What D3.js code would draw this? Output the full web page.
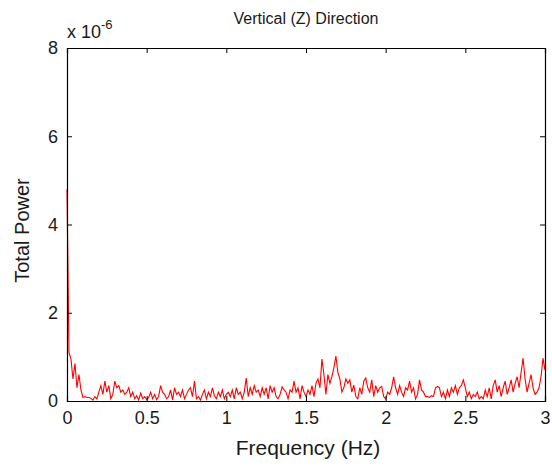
<!DOCTYPE html>
<html><head><meta charset="utf-8">
<script src="https://cdn.jsdelivr.net/npm/d3@7"></script>
<style>body{margin:0;background:#fff}text{font-family:"Liberation Sans",Arial,sans-serif;fill:#1a1a1a}</style>
</head><body><svg id="c" width="552" height="470"></svg>
<script>
const title = "Vertical (Z) Direction";
const xLabel = "Frequency (Hz)";
const yLabel = "Total Power";
const xTicks = [0, 0.5, 1, 1.5, 2, 2.5, 3];
const yTicks = [0, 2, 4, 6, 8];
const yExponent = "-6";
const freqStep = 0.0125;
// Total power values in units of 1e-6
const power = [
4.8,1.1,0.95,0.5,0.85,0.3,0.6,0.25,0.08,0.1,0.08,0.08,0.06,0.02,0.1,0.05,0.2,0.35,0.15,0.45,
0.2,0.35,0.05,0.15,0.45,0.3,0.35,0.2,0.25,0.15,0.2,0.3,0.1,0.2,0.05,0.12,0.02,0.18,0.05,0.1,
0.03,0.08,0.2,0.05,0.15,0.03,0.1,0.35,0.2,0.15,0.05,0.1,0.25,0.02,0.3,0.15,0.2,0.1,0.25,0.05,
0.15,0.25,0.3,0.1,0.45,0.05,0.1,0.02,0.15,0.25,0.05,0.2,0.1,0.3,0.12,0.05,0.2,0.1,0.25,0.05,
0.15,0.2,0.1,0.25,0.05,0.3,0.15,0.2,0.05,0.2,0.52,0.1,0.3,0.15,0.35,0.2,0.25,0.1,0.3,0.15,
0.3,0.05,0.35,0.2,0.3,0.1,0.05,0.15,0.32,0.25,0.2,0.05,0.25,0.2,0.45,0.2,0.3,0.05,0.35,0.2,
0.1,0.25,0.15,0.35,0.1,0.4,0.5,0.3,0.95,0.6,0.15,0.6,0.4,0.55,0.75,1.02,0.65,0.5,0.2,0.3,
0.5,0.4,0.48,0.2,0.36,0.1,0.05,0.3,0.15,0.45,0.52,0.3,0.2,0.48,0.1,0.35,0.2,0.3,0.33,0.1,
0.05,0.2,0.15,0.3,0.55,0.3,0.15,0.35,0.2,0.1,0.3,0.25,0.45,0.2,0.3,0.05,0.15,0.48,0.25,0.2,
0.1,0.1,0.08,0.12,0.1,0.3,0.33,0.3,0.1,0.2,0.05,0.25,0.1,0.3,0.2,0.35,0.15,0.3,0.35,0.48,
0.3,0.1,0.2,0.05,0.15,0.1,0.2,0.05,0.1,0.05,0.25,0.1,0.3,0.05,0.35,0.48,0.2,0.35,0.1,0.3,
0.45,0.15,0.3,0.48,0.2,0.4,0.55,0.3,0.65,0.97,0.5,0.2,0.4,0.6,0.3,0.15,0.2,0.3,0.55,0.97,
0.7
];
const freq = power.map((_, i) => i * freqStep);

const svg = d3.select("#c");
const m = {l:67, r:545, t:48, b:401};
const x = d3.scaleLinear().domain([0,3]).range([m.l, m.r]);
const y = d3.scaleLinear().domain([0,8]).range([m.b, m.t]);

// line
svg.append("path")
  .datum(power.map((v,i)=>[freq[i], v]))
  .attr("fill","none").attr("stroke","#ff0000").attr("stroke-width",1.1)
  .attr("d", d3.line().x(d=>x(d[0])).y(d=>y(d[1])));

// axes with inward ticks
const tl = 5;
const gB = svg.append("g").attr("transform",`translate(0,${m.b})`)
  .call(d3.axisBottom(x).tickValues(xTicks).tickSize(-tl).tickPadding(10).tickFormat(d3.format("")));
const gT = svg.append("g").attr("transform",`translate(0,${m.t})`)
  .call(d3.axisTop(x).tickValues(xTicks).tickSize(-tl).tickFormat(""));
const gL = svg.append("g").attr("transform",`translate(${m.l},0)`)
  .call(d3.axisLeft(y).tickValues(yTicks).tickSize(-tl).tickPadding(9).tickFormat(d3.format("")));
const gR = svg.append("g").attr("transform",`translate(${m.r},0)`)
  .call(d3.axisRight(y).tickValues(yTicks).tickSize(-tl).tickFormat(""));
[gB,gT,gL,gR].forEach(g=>{
  g.select(".domain").attr("stroke","#000").attr("stroke-width",1.2);
  g.selectAll(".tick line").attr("stroke","#000");
  g.selectAll("text").attr("font-size",18).attr("font-family",'"Liberation Sans",Arial,sans-serif').attr("fill","#1a1a1a");
});

// title
svg.append("text").attr("x",(m.l+m.r)/2).attr("y",24).attr("text-anchor","middle")
  .attr("font-size",16).text(title);
// exponent
const ex = svg.append("text").attr("x",67).attr("y",38).attr("font-size",18);
ex.append("tspan").text("x 10");
ex.append("tspan").attr("dy",-9).attr("font-size",13).text(yExponent);
// axis labels
svg.append("text").attr("x",(m.l+m.r)/2+2).attr("y",455).attr("text-anchor","middle")
  .attr("font-size",21).text(xLabel);
svg.append("text").attr("transform",`translate(29,${(m.t+m.b)/2+6}) rotate(-90)`)
  .attr("text-anchor","middle").attr("font-size",20).text(yLabel);
</script></body></html>
